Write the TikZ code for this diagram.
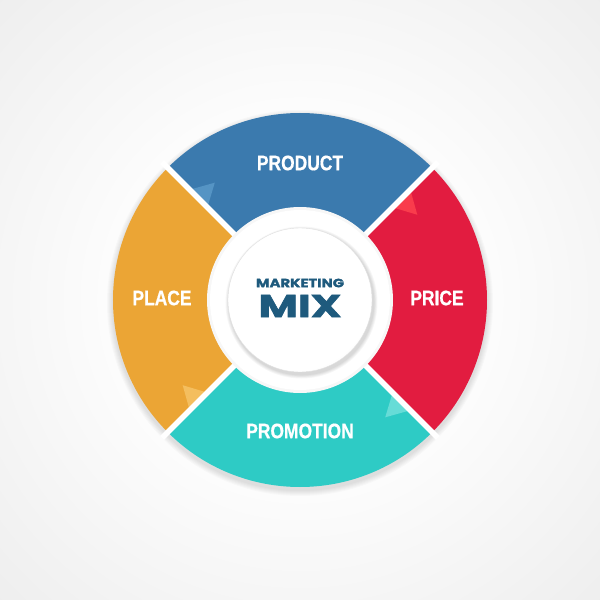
\documentclass[tikz,border=0pt]{standalone}
\usepackage{fontspec}
\usepackage{graphicx}
\newfontfamily\labfont{Liberation Sans}[FakeStretch=0.83, BoldFeatures={FakeBold=0.6}]
\newfontfamily\popfont{Poppins}[BoldFeatures={FakeBold=1.6}]
\definecolor{cblue}{HTML}{3B7AAE}
\definecolor{cred}{HTML}{E21C40}
\definecolor{cteal}{HTML}{2ECBC5}
\definecolor{corange}{HTML}{EBA535}
\definecolor{lblue}{HTML}{5594C4}
\definecolor{lred}{HTML}{F93C4C}
\definecolor{lteal}{HTML}{66DCD7}
\definecolor{lorange}{HTML}{F4BE5E}
\definecolor{navy}{HTML}{1E5A7D}
\definecolor{bgout}{HTML}{E4E4E4}
\definecolor{btnout}{HTML}{DCDCDC}
\pgfdeclareradialshading{bgshade}{\pgfpoint{0bp}{0bp}}{color(0bp)=(white); color(12bp)=(white); color(50bp)=(bgout)}
\pgfdeclareradialshading{btnshade}{\pgfpoint{-6bp}{8bp}}{color(0bp)=(white); color(28bp)=(white); color(50bp)=(btnout)}
\tikzset{
  lab/.style={text=white, font=\labfont\bfseries\fontsize{21}{21}\selectfont, inner sep=0pt},
  gapline/.style={white, line width=5.5pt},
}
\begin{document}
\begin{tikzpicture}[x=1pt,y=1pt]
\useasboundingbox (-300,-300) rectangle (300,300);
\shade[shading=bgshade] (-300,-300) rectangle (300,300);
% soft shadow of ring
\foreach \k in {1,...,6}{
  \fill[black, opacity=0.018] (0,-3) circle (187+\k);
}
% segments
\fill[cblue] (0,0) -- (45:187) arc[start angle=45, end angle=135, radius=187] -- cycle;
\fill[corange] (0,0) -- (135:187) arc[start angle=135, end angle=225, radius=187] -- cycle;
\fill[cteal] (0,0) -- (225:187) arc[start angle=225, end angle=315, radius=187] -- cycle;
\fill[cred] (0,0) -- (315:187) arc[start angle=315, end angle=405, radius=187] -- cycle;
% decorative triangles
\fill[lred] (45:131) -- (45:156) -- (36:145) -- cycle;
\fill[lblue] (135:131) -- (135:156) -- (126:145) -- cycle;
\fill[lorange] (225:131) -- (225:156) -- (216:145) -- cycle;
\fill[lteal] (315:131) -- (315:156) -- (306:145) -- cycle;
% gaps
\draw[gapline] (0,0) -- (45:195);
\draw[gapline] (0,0) -- (135:195);
\draw[gapline] (0,0) -- (225:195);
\draw[gapline] (0,0) -- (315:195);
% center disc
\fill[white!97!black] (0,0) circle (93);
\fill[white] (0,0) circle (90);
\foreach \k in {1,...,5}{
  \fill[black, opacity=0.03] (1.5,-2.5) circle (72+\k*0.8);
}
\shade[shading=btnshade] (0,0) circle (72);
\draw[white!88!black, line width=0.4pt] (0,0) circle (72);
% labels
\node[lab] (product) at (0,137) {PRODUCT};
\node[lab] (price) at (137,2) {PRICE};
\node[lab] (promotion) at (0,-131) {PROMOTION};
\node[lab] (place) at (-138,2) {PLACE};
\node[text=navy, inner sep=0pt] (marketing) at (0,17) {\resizebox{88pt}{8.5pt}{\popfont\bfseries MARKETING}};
\node[text=navy, inner sep=0pt] (mix) at (0,-6) {\resizebox{83pt}{22pt}{\popfont\bfseries MIX}};
\end{tikzpicture}
\end{document}
